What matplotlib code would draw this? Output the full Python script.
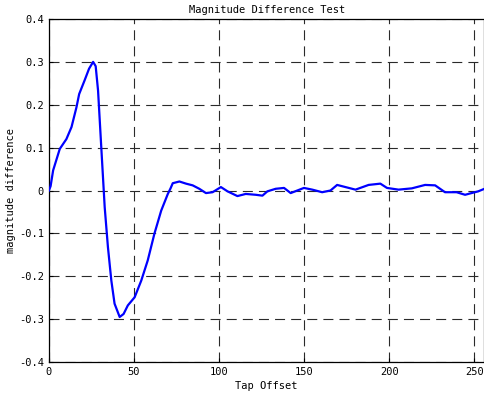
import numpy as np
import matplotlib
matplotlib.use("Agg")
from matplotlib import pyplot as plt

# tap offset / magnitude difference samples
tap = [0, 1, 2.5, 6.4, 10.3, 13.3, 16.2, 17.8, 21, 23.6, 26, 27.5, 28.9, 30.8,
       32.8, 34.7, 36.7, 38.6, 41.6, 43.9, 46.4, 50.4, 54.3, 58.1, 62, 66,
       69.9, 71.5, 72.8, 76.7, 80.6, 84.5, 88.4, 92.3, 96.2, 101.1, 105, 110.8,
       115.7, 121.6, 125.5, 128.4, 133.3, 138.2, 142.1, 146, 149.9, 154.8,
       160.6, 165.5, 169.4, 174.3, 180.2, 187.9, 194.8, 198.7, 205.5, 213.3,
       221.1, 227, 232.8, 239.6, 244.6, 248.4, 252.3, 256]
mag_diff = [0.0, 0.01, 0.047, 0.097, 0.12, 0.148, 0.194, 0.225, 0.257, 0.284,
            0.30, 0.29, 0.233, 0.10, -0.039, -0.132, -0.21, -0.264, -0.295,
            -0.288, -0.268, -0.249, -0.21, -0.163, -0.101, -0.047, -0.008,
            0.005, 0.017, 0.021, 0.016, 0.012, 0.004, -0.006, -0.004, 0.008,
            -0.002, -0.013, -0.008, -0.01, -0.012, -0.002, 0.004, 0.006,
            -0.006, 0.0, 0.006, 0.002, -0.004, 0.0, 0.013, 0.008, 0.002, 0.013,
            0.016, 0.006, 0.002, 0.005, 0.013, 0.012, -0.004, -0.004, -0.01,
            -0.006, -0.002, 0.004]

plt.rcParams["font.family"] = "DejaVu Sans Mono"
plt.rcParams["font.size"] = 7.5

fig = plt.figure(figsize=(4.84, 4.0), dpi=100)
ax = fig.add_axes([0.101, 0.095, 0.90, 0.8575])

ax.plot(tap, mag_diff, color="#0000ff", linewidth=1.6, zorder=3)

ax.set_xlim(0, 256)
ax.set_ylim(-0.4, 0.4)
ax.set_xticks(np.arange(0, 251, 50))
yt = np.arange(-0.4, 0.41, 0.1)
ax.set_yticks(yt)
ax.set_yticklabels(["%.1f" % v if abs(v) > 1e-9 else "0" for v in yt])
ax.grid(True, color="#2a2a2a", linestyle=(0, (9, 5.5)), linewidth=0.8)
ax.tick_params(direction="in", length=3, width=0.8, colors="black")
for s in ax.spines.values():
    s.set_linewidth(0.9)

ax.set_title("Magnitude Difference Test", fontsize=7.5, pad=4)
ax.set_xlabel("Tap Offset", labelpad=3)
ax.set_ylabel("magnitude difference", labelpad=2)

fig.savefig("out.png", dpi=100)
